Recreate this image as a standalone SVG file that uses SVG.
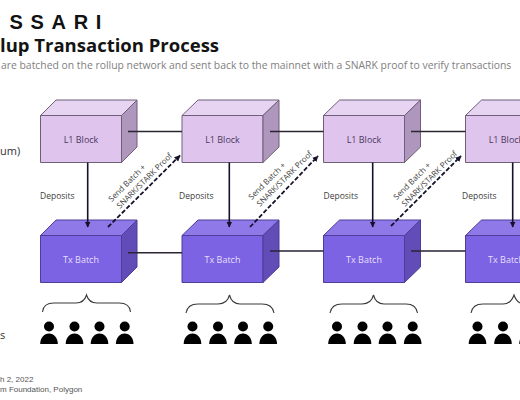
<svg xmlns="http://www.w3.org/2000/svg" width="520" height="400" viewBox="0 0 520 400">
<style>
text{font-family:"Open Sans","Noto Sans",sans-serif}
.lbl{font-size:8.500px;fill:#3d3d3d}
.rot{font-size:8px;fill:#3d3d3d;text-anchor:middle}
.side{font-size:11px;fill:#333}
.nl{font-size:9px;text-anchor:middle}
.l1 .f{fill:#dfc4ee}.l1 .t{fill:#e7d3f2}.l1 .s{fill:#ae96bd}
.l1 polygon{stroke:#6f6078;stroke-width:1}
.l1 text{fill:#4a3a5c}
.tx .f{fill:#7b63e3}.tx .t{fill:#8f79e8}.tx .s{fill:#614cb8}
.tx polygon{stroke:#4d3f98;stroke-width:1}
.tx text{fill:#e6dffa}
.link{stroke:#2a2433;stroke-width:1.600;fill:none}
.dep{stroke:#15112a;stroke-width:1.600;fill:none;marker-end:url(#a)}
.dash{stroke:#15112a;stroke-width:1.800;fill:none;stroke-dasharray:4.500 2;marker-end:url(#a)}
.brace{stroke:#3a3a3a;stroke-width:1.100;fill:none}
.foot{font-size:8px;fill:#555;font-family:"Liberation Sans",sans-serif}
</style>
<defs>
<marker id="a" markerUnits="userSpaceOnUse" markerWidth="7" markerHeight="7" refX="5.500" refY="3" orient="auto"><path d="M0 0L6 3L0 6z" fill="#15112a"/></marker>
<g id="person"><circle cx="0" cy="-12.500" r="5"/><path d="M-8.800 5C-8.800-1 -5-5.500 0-5.500C5-5.500 8.800-1 8.800 5z"/></g>
<g id="crowd"><use href="#person" x="0"/><use href="#person" x="25.500"/><use href="#person" x="50.500"/><use href="#person" x="75.700"/></g>
</defs>
<rect width="520" height="400" fill="#fff"/>
<text x="9.500" y="29" font-size="20" font-weight="700" letter-spacing="7.700" fill="#111" style="font-family:'Liberation Sans',sans-serif">SSARI</text>
<text x="0" y="52" font-size="18.500" font-weight="700" fill="#141414">lup Transaction Process</text>
<text x="1" y="69" font-size="10.380" fill="#808080">are batched on the rollup network and sent back to the mainnet with a SNARK proof to verify transactions</text>
<text x="0" y="155" class="side">um)</text>
<text x="0" y="339" class="side">s</text>
<text x="0" y="382" class="foot">h 2, 2022</text>
<text x="0" y="392" class="foot">m Foundation, Polygon</text>

<g id="n-l1-1" class="l1"><polygon class="f" points="40.500,115.500 121.500,115.500 121.500,162.500 40.500,162.500"/><polygon class="t" points="40.500,115.500 56,100 137,100 121.500,115.500"/><polygon class="s" points="121.500,115.500 137,100 137,147 121.500,162.500"/><text class="nl" x="81" y="142.500">L1 Block</text></g>
<g id="n-l1-2" class="l1"><polygon class="f" points="182,115.500 263,115.500 263,162.500 182,162.500"/><polygon class="t" points="182,115.500 198,100 279,100 263,115.500"/><polygon class="s" points="263,115.500 279,100 279,147 263,162.500"/><text class="nl" x="222.500" y="142.500">L1 Block</text></g>
<g id="n-l1-3" class="l1"><polygon class="f" points="323.500,115.500 404.500,115.500 404.500,162.500 323.500,162.500"/><polygon class="t" points="323.500,115.500 339.500,100 420.500,100 404.500,115.500"/><polygon class="s" points="404.500,115.500 420.500,100 420.500,147 404.500,162.500"/><text class="nl" x="364" y="142.500">L1 Block</text></g>
<g id="n-l1-4" class="l1"><polygon class="f" points="465.500,115.500 546.500,115.500 546.500,162.500 465.500,162.500"/><polygon class="t" points="465.500,115.500 481.500,100 562.500,100 546.500,115.500"/><text class="nl" x="506" y="142.500">L1 Block</text></g>

<g id="n-tx-1" class="tx"><polygon class="f" points="40.500,235.500 121.500,235.500 121.500,282.500 40.500,282.500"/><polygon class="t" points="40.500,235.500 56,220 137,220 121.500,235.500"/><polygon class="s" points="121.500,235.500 137,220 137,267 121.500,282.500"/><text class="nl" x="81" y="262.500">Tx Batch</text></g>
<g id="n-tx-2" class="tx"><polygon class="f" points="182,235.500 263,235.500 263,282.500 182,282.500"/><polygon class="t" points="182,235.500 198,220 279,220 263,235.500"/><polygon class="s" points="263,235.500 279,220 279,267 263,282.500"/><text class="nl" x="222.500" y="262.500">Tx Batch</text></g>
<g id="n-tx-3" class="tx"><polygon class="f" points="323.500,235.500 404.500,235.500 404.500,282.500 323.500,282.500"/><polygon class="t" points="323.500,235.500 339.500,220 420.500,220 404.500,235.500"/><polygon class="s" points="404.500,235.500 420.500,220 420.500,267 404.500,282.500"/><text class="nl" x="364" y="262.500">Tx Batch</text></g>
<g id="n-tx-4" class="tx"><polygon class="f" points="465.500,235.500 546.500,235.500 546.500,282.500 465.500,282.500"/><polygon class="t" points="465.500,235.500 481.500,220 562.500,220 546.500,235.500"/><text class="nl" x="506" y="262.500">Tx Batch</text></g>

<g id="connectors">
<path class="link" d="M128 131.500H182M270 131.500H323.500M411 131.500H465.500M128 252.700H182M270 251H323.500M411 251H465.500"/>
<path class="dep" d="M87.700 162.500V227"/><path class="dep" d="M229.300 162.500V227"/><path class="dep" d="M372.700 162.500V227"/><path class="dep" d="M512.700 162.500V227"/>
<path class="dash" d="M108 227L180 155.500"/><path class="dash" d="M250 227L318 156"/><path class="dash" d="M391 226L461 156"/>
</g>

<g id="labels">
<text class="lbl" x="40" y="199">Deposits</text><text class="lbl" x="179" y="199">Deposits</text><text class="lbl" x="323.500" y="199">Deposits</text><text class="lbl" x="462" y="199">Deposits</text>
<g transform="translate(129 185) rotate(-45)"><text class="rot" x="0" y="0">Send Batch +</text><text class="rot" x="14" y="10.600">SNARK/STARK Proof</text></g>
<g transform="translate(269 183) rotate(-45)"><text class="rot" x="0" y="0">Send Batch +</text><text class="rot" x="14" y="10.600">SNARK/STARK Proof</text></g>
<g transform="translate(414 183) rotate(-45)"><text class="rot" x="0" y="0">Send Batch +</text><text class="rot" x="14" y="10.600">SNARK/STARK Proof</text></g>
</g>

<g id="braces">
<path class="brace" d="M42.500 312C43 306 47 303 54 303H76C82 303 85 300 86.500 295C88 300 91 303 97 303H119C126 303 130 306 130.500 312"/>
<path class="brace" d="M186 313C187 307 191 304 198 304H218C224 304 228 301 229.500 295C231 301 234 304 240 304H262C269 304 273 307 274 313"/>
<path class="brace" d="M330 313C331 307 335 304 342 304H362C368 304 372 301 373.500 295C375 301 378 304 384 304H406C413 304 416.500 307 417.500 313"/>
<path class="brace" d="M471 313C472 307 476 304 483 304H503C509 304 512 301 514 295C516 301 519 304 525 304"/>
</g>

<g id="people" fill="#000">
<use href="#crowd" x="49" y="339"/>
<use href="#crowd" x="192.500" y="339"/>
<use href="#crowd" x="337" y="339"/>
<use href="#crowd" x="477.500" y="339"/>
</g>
</svg>
